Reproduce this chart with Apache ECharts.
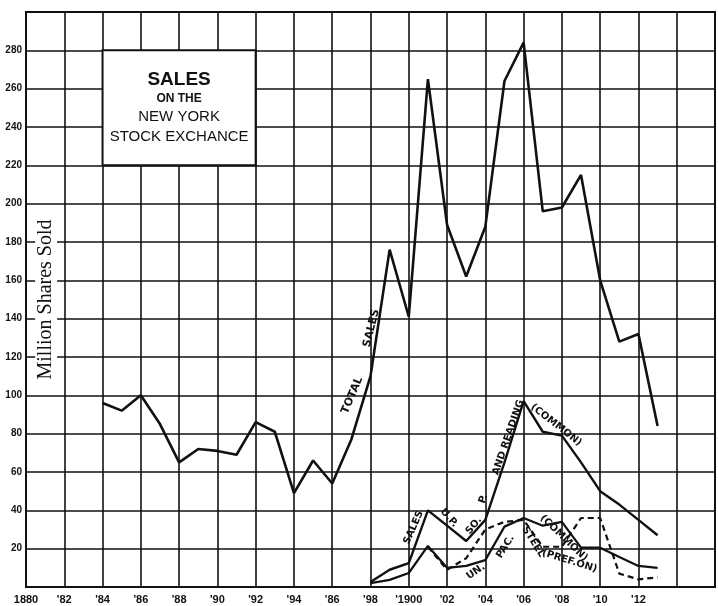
<!DOCTYPE html>
<html><head><meta charset="utf-8">
<script src="https://cdn.jsdelivr.net/npm/echarts@6/dist/echarts.min.js"></script>
<style>html,body{margin:0;padding:0;background:#fff}#c{width:718px;height:606px}</style>
</head><body><div id="c"></div>
<script>
// ---- data ----
const totalYears = [1884,1885,1886,1887,1888,1889,1890,1891,1892,1893,1894,1895,1896,1897,1898,1899,1900,1901,1902,1903,1904,1905,1906,1907,1908,1909,1910,1911,1912,1913];
const totalSales = [96,92,100,85,65,72,71,69,86,81,49,66,54,77,110,176,141,265,189,162,188,264,284,196,198,215,160,128,132,84];
const railYears = [1898,1899,1900,1901,1902,1903,1904,1905,1906,1907,1908,1909,1910,1911,1912,1913];
const upSoPReading = [2.6,9,12.5,40,32,24,35,65,97,81,79,65,50,43,35,27];
const unPac = [2,3.7,7.3,21.4,10,11,14,31.5,36,32,34,20.5,20.5,15.7,11,10];
const steelYears = [1901,1902,1903,1904,1905,1906,1907,1908,1909,1910,1911,1912,1913];
const steel = [21,9,15,30,34,35,21,21,36,36,7,4,5];
const xTickLabels = ['1880',"'82","'84","'86","'88","'90","'92","'94","'86","'98","'1900","'02","'04","'06","'08","'10","'12",'',''];
const yTickLabels = ['','20','40','60','80','100','120','140','160','180','200','220','240','260','280',''];

const pairs = (xs, ys) => xs.map((x, i) => [x, ys[i]]);
const INK = '#111';

const chart = echarts.init(document.getElementById('c'), null, {renderer: 'canvas'});
chart.setOption({
  animation: false,
  backgroundColor: '#fff',
  grid: {left: 26, right: 1, top: 12, bottom: 19, show: true, borderColor: INK, borderWidth: 2, backgroundColor: '#fff'},
  xAxis: {
    type: 'value', min: 1880, max: 1916, interval: 2,
    axisLine: {show: true, lineStyle: {color: INK, width: 2}},
    axisTick: {show: false},
    splitLine: {show: true, lineStyle: {color: INK, width: 1.6}},
    axisLabel: {
      color: INK, fontFamily: 'Liberation Sans', fontWeight: 'bold', fontSize: 11, margin: 7,
      formatter: v => xTickLabels[Math.round((v - 1880) / 2)] || ''
    }
  },
  yAxis: {
    type: 'value', min: 0, max: 300, interval: 20,
    axisLine: {show: true, lineStyle: {color: INK, width: 2}},
    axisTick: {show: false},
    splitLine: {show: true, lineStyle: {color: INK, width: 1.6}},
    axisLabel: {
      color: INK, fontFamily: 'Liberation Sans', fontWeight: 'bold', fontSize: 10, margin: 4,
      formatter: v => yTickLabels[Math.round(v / 20)] || ''
    }
  },
  series: [
    {
      name: 'Total Sales', type: 'line', symbol: 'none', z: 5,
      data: pairs(totalYears, totalSales),
      lineStyle: {color: INK, width: 2.6},
      markArea: {
        silent: true,
        itemStyle: {color: '#fff', borderColor: INK, borderWidth: 2, opacity: 1},
        data: [[{xAxis: 1884, yAxis: 280}, {xAxis: 1892, yAxis: 220}]]
      }
    },
    {
      name: 'U.P., So. P. and Reading (Common)', type: 'line', symbol: 'none', z: 5,
      data: pairs(railYears, upSoPReading),
      lineStyle: {color: INK, width: 2.4}
    },
    {
      name: 'Un. Pac.', type: 'line', symbol: 'none', z: 5,
      data: pairs(railYears, unPac),
      lineStyle: {color: INK, width: 2.2}
    },
    {
      name: 'Steel', type: 'line', symbol: 'none', z: 5,
      data: pairs(steelYears, steel),
      lineStyle: {color: INK, width: 2.2, type: [6, 4]}
    }
  ]
});

// ---- annotations placed in data coordinates ----
const lineLabels = [
  {text: 'TOTAL', at: [1897.05, 100], rot: 67, size: 11},
  {text: 'SALES', at: [1898.05, 135], rot: 76, size: 11},
  {text: 'SALES', at: [1900.25, 31], rot: 66, size: 10},
  {text: 'U.P.', at: [1902.1, 36], rot: -48, size: 10},
  {text: 'SO.', at: [1903.4, 32], rot: 50, size: 10},
  {text: 'P.', at: [1903.9, 46], rot: 70, size: 10},
  {text: 'AND READING', at: [1905.2, 78], rot: 71, size: 10},
  {text: '(COMMON)', at: [1907.7, 84.5], rot: -38, size: 10},
  {text: 'UN.', at: [1903.5, 8], rot: 35, size: 10},
  {text: 'PAC.', at: [1905.05, 21], rot: 58, size: 10},
  {text: 'STEEL', at: [1906.5, 23.5], rot: -58, size: 10},
  {text: '(COMMON)', at: [1908.1, 25.5], rot: -44, size: 10},
  {text: '(PREF.ON)', at: [1908.4, 13.5], rot: -17, size: 10}
];
const px = p => chart.convertToPixel({gridIndex: 0}, p);
const graphics = lineLabels.map(l => {
  const [x, y] = px(l.at);
  return {
    type: 'text', x, y, rotation: l.rot * Math.PI / 180, z: 20,
    style: {text: l.text, fill: INK, font: 'bold ' + l.size + 'px "DejaVu Sans"', align: 'center', verticalAlign: 'middle'}
  };
});
const [bx, by] = px([1888, 250]);
graphics.push({
  type: 'text', x: bx, y: by, z: 20,
  style: {
    text: '{a|SALES}\n{b|ON THE}\n{c|NEW YORK}\n{c|STOCK EXCHANCE}',
    align: 'center', verticalAlign: 'middle', fill: INK,
    rich: {
      a: {font: 'bold 19px "Liberation Sans"', fill: INK, lineHeight: 22, align: 'center'},
      b: {font: 'bold 12px "Liberation Sans"', fill: INK, lineHeight: 17, align: 'center'},
      c: {font: '15px "Liberation Sans"', fill: INK, lineHeight: 20, align: 'center'}
    }
  }
});
const [nx, ny] = px([1881.05, 150]);
graphics.push({
  type: 'text', x: nx, y: ny, rotation: Math.PI / 2, z: 20,
  style: {
    text: 'Million Shares Sold', font: '20px "Liberation Serif"', fill: INK,
    align: 'center', verticalAlign: 'middle', backgroundColor: '#fff', padding: [1, 4]
  }
});
chart.setOption({graphic: graphics});
</script>
</body></html>
